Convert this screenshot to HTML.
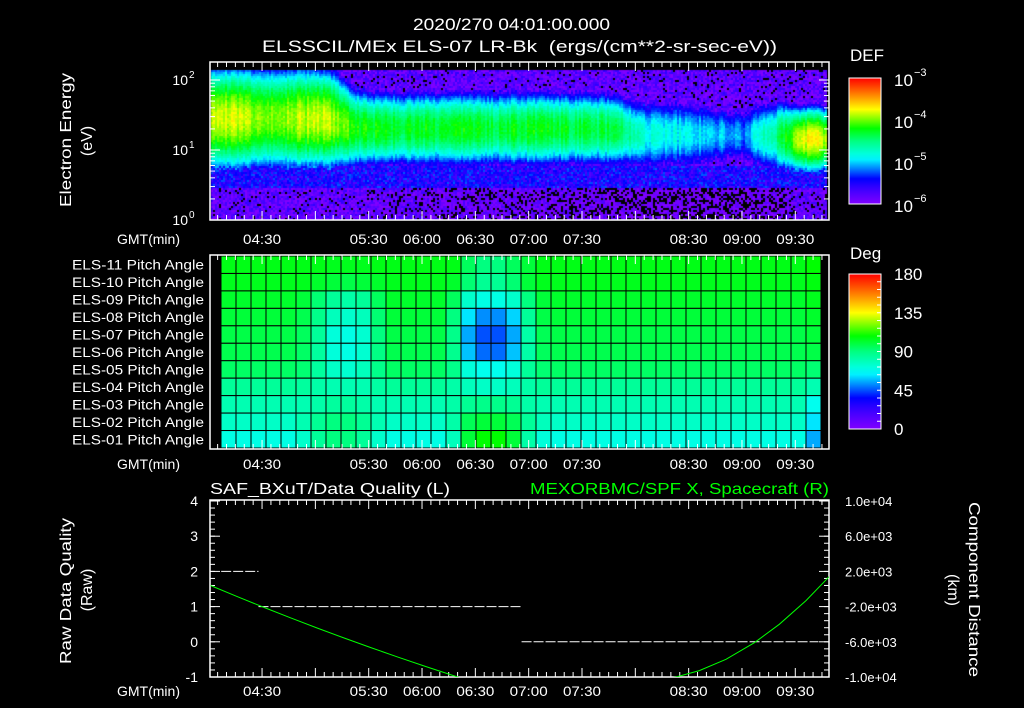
<!DOCTYPE html>
<html><head><meta charset="utf-8">
<style>
html,body{margin:0;padding:0;background:#000;width:1024px;height:708px;overflow:hidden}
#wrap{position:relative;width:1024px;height:708px}
canvas{position:absolute;left:0;top:0}
svg{position:absolute;left:0;top:0}
text{font-family:"Liberation Sans",sans-serif;fill:#fff}
</style></head>
<body>
<div id="wrap">
<canvas id="spec" width="1024" height="708"></canvas>
<svg id="svg" width="1024" height="708" xmlns="http://www.w3.org/2000/svg">
<defs>
<linearGradient id="cbar" x1="0" y1="1" x2="0" y2="0"></linearGradient>
<clipPath id="botclip"><rect x="210" y="500" width="619" height="177"/></clipPath>
</defs>
<text x="413" y="30" textLength="197" lengthAdjust="spacingAndGlyphs" font-size="17">2020/270 04:01:00.000</text>
<text x="262" y="52" textLength="515" lengthAdjust="spacingAndGlyphs" font-size="17" xml:space="preserve">ELSSCIL/MEx ELS-07 LR-Bk  (ergs/(cm**2-sr-sec-eV))</text>
<g>
<text transform="translate(71,207) rotate(-90)" textLength="134" lengthAdjust="spacingAndGlyphs" font-size="16">Electron Energy</text>
<text transform="translate(92,141) rotate(-90)" text-anchor="middle" font-size="16">(eV)</text>
</g>
<text x="850" y="61" font-size="17">DEF</text>
<text x="850" y="259" font-size="17">Deg</text>
<text x="210" y="494" textLength="240" lengthAdjust="spacingAndGlyphs" font-size="16">SAF_BXuT/Data Quality (L)</text>
<text x="530" y="494" textLength="299" lengthAdjust="spacingAndGlyphs" font-size="16" style="fill:#00ff00">MEXORBMC/SPF X, Spacecraft (R)</text>
<g>
<text transform="translate(71,664) rotate(-90)" textLength="146" lengthAdjust="spacingAndGlyphs" font-size="16">Raw Data Quality</text>
<text transform="translate(92,590) rotate(-90)" text-anchor="middle" font-size="16">(Raw)</text>
</g>
<g>
<text transform="translate(969,502) rotate(90)" textLength="175" lengthAdjust="spacingAndGlyphs" font-size="16">Component Distance</text>
<text transform="translate(948,590) rotate(90)" text-anchor="middle" font-size="16">(km)</text>
</g>
<g id="g"></g>
</svg>
</div>
<script>
// ---------- data ----------
const specTimes = [0,10,20,30,40,50,60,70,80,90,100,110,120,130,140,150,160,170,180,190,200,210,220,230,240,250,260,270,280,290,300,310,320,330,340,348];
const specPeakLog = [-3.75,-3.85,-3.85,-3.95,-3.95,-3.9,-3.85,-3.9,-4.15,-4.25,-4.25,-4.3,-4.25,-4.35,-4.25,-4.25,-4.35,-4.25,-4.25,-4.25,-4.3,-4.35,-4.35,-4.35,-4.75,-4.85,-4.85,-4.9,-5.0,-5.0,-5.2,-4.7,-4.5,-3.8,-3.75,-4.0];
const specCenterLogE = [1.45,1.45,1.45,1.45,1.45,1.45,1.45,1.42,1.32,1.3,1.3,1.3,1.3,1.3,1.3,1.3,1.3,1.3,1.3,1.3,1.3,1.3,1.3,1.28,1.22,1.22,1.22,1.22,1.22,1.22,1.22,1.2,1.2,1.15,1.15,1.15];
const specWidthDec = [0.72,0.72,0.72,0.72,0.72,0.72,0.7,0.68,0.58,0.55,0.55,0.55,0.55,0.55,0.55,0.55,0.55,0.55,0.55,0.55,0.55,0.55,0.55,0.53,0.55,0.58,0.58,0.58,0.55,0.5,0.5,0.55,0.55,0.45,0.45,0.45];
const specLowBg = [-5.85,-5.85,-5.85,-5.85,-5.85,-5.85,-5.85,-5.85,-5.85,-5.9,-5.9,-5.9,-5.9,-5.95,-5.95,-5.95,-5.95,-5.95,-5.95,-5.95,-5.95,-5.95,-5.95,-6.0,-6.05,-6.05,-6.05,-6.05,-6.05,-6.05,-6.05,-6.0,-6.0,-5.9,-5.9,-5.9];
const energyTickLabels = ["2","1","0"];
const defTickLabels = ["-3","-4","-5","-6"];
const pitchRows = ["ELS-11","ELS-10","ELS-09","ELS-08","ELS-07","ELS-06","ELS-05","ELS-04","ELS-03","ELS-02","ELS-01"];
const pitch11 = [105,105,105,105,105,105,105,104,104,104,105,105,105,105,105,105,95,90,90,95,100,105,105,105,105,105,105,105,105,105,105,105,105,105,105,105,105,105,105,108];
const pitch10 = [104,104,104,104,104,104,102,100,98,100,102,104,104,104,104,102,92,86,86,92,100,104,104,104,104,104,104,104,104,104,104,104,104,104,104,104,104,104,104,106];
const pitch09 = [102,102,102,102,102,100,92,85,82,85,95,102,102,102,102,95,75,70,70,75,90,100,102,102,102,102,102,102,102,102,102,102,102,102,102,102,102,102,102,104];
const pitch08 = [100,100,100,100,100,97,88,78,75,78,92,100,100,100,100,90,62,52,52,60,85,98,100,100,100,100,100,100,100,100,100,100,100,100,100,100,100,100,100,102];
const pitch07 = [98,98,98,98,98,95,85,72,70,74,90,98,98,98,98,88,55,45,45,55,82,96,98,98,98,98,98,98,98,98,98,98,98,98,98,98,98,98,98,100];
const pitch06 = [97,97,97,97,97,94,84,72,70,74,89,97,97,97,97,87,58,48,48,58,82,95,97,97,97,97,97,97,97,97,97,97,97,97,97,97,97,97,97,98];
const pitch05 = [94,94,94,94,94,92,84,76,74,78,88,94,94,94,94,88,72,68,68,72,85,92,94,94,94,94,94,94,94,94,94,94,94,94,94,94,94,94,94,92];
const pitch04 = [85,85,85,85,85,84,82,80,80,80,83,85,85,85,85,82,78,76,76,78,82,85,85,85,85,85,85,85,85,85,85,85,85,85,85,85,85,85,85,80];
const pitch03 = [80,80,80,80,80,80,82,84,84,82,80,80,80,80,80,82,86,88,88,86,82,80,80,80,80,80,80,80,80,80,80,80,80,80,80,80,80,80,80,68];
const pitch02 = [76,76,76,76,76,80,86,90,90,86,80,76,76,76,76,82,96,100,100,96,85,78,76,76,76,76,76,76,76,76,76,76,76,76,76,76,76,76,76,62];
const pitch01 = [70,70,70,70,70,75,85,90,90,85,75,70,70,70,70,78,100,108,108,100,82,72,70,70,70,70,70,70,70,70,70,70,70,70,70,70,70,70,70,55];
const pitchTickLabels = ["180","135","90","45","0"];
const dqStart = [6,27,175];
const dqEnd = [27,175,342];
const dqValue = [2,1,0];
const posTimesA = [0,15,29,45,60,75,90,105,120,139,150];
const posValuesA = [400,-860,-2000,-3270,-4430,-5560,-6650,-7710,-8740,-10000,-10700];
const posTimesB = [250,262,275,290,306,320,335,348];
const posValuesB = [-10360,-10000,-9270,-7990,-6100,-4010,-1320,1400];
const dqTickLabels = ["4","3","2","1","0","-1"];
const distTickLabels = ["1.0e+04","6.0e+03","2.0e+03","-2.0e+03","-6.0e+03","-1.0e+04"];
const distTickValues = [10000,6000,2000,-2000,-6000,-10000];
const timeTickLabels = ["04:30","05:30","06:00","06:30","07:00","07:30","08:30","09:00","09:30"];
const timeTickMinutes = [29,89,119,149,179,209,269,299,329];

// ---------- scales ----------
const X0=210.5, PXM=1.7775;
const xT = t => X0 + t*PXM;
const yE = le => 220 - le*70;
const yQ = q => 501 + (4-q)*35.2;
const yD = v => 501 + (10000-v)/20000*176;
const yDef = l => 204 - (l+6)*42;
const yDeg = d => 429 - d/180*155;

const stops=[[0,[128,0,255]],[0.12,[60,0,255]],[0.2,[0,0,255]],[0.3,[0,160,255]],[0.36,[0,255,255]],[0.5,[0,255,128]],[0.6,[0,255,0]],[0.75,[255,255,0]],[0.87,[255,128,0]],[1,[255,0,0]]];
function cmap(f){f=Math.max(0,Math.min(1,f));for(let i=1;i<stops.length;i++){if(f<=stops[i][0]){const a=stops[i-1],b=stops[i];const u=(f-a[0])/(b[0]-a[0]);return [0,1,2].map(k=>Math.round(a[1][k]+(b[1][k]-a[1][k])*u));}}return stops[stops.length-1][1];}
const rgb=c=>`rgb(${c[0]},${c[1]},${c[2]})`;
function interp(arrT,arrV,t){if(t<=arrT[0])return arrV[0];for(let i=1;i<arrT.length;i++){if(t<=arrT[i]){const u=(t-arrT[i-1])/(arrT[i]-arrT[i-1]);return arrV[i-1]+(arrV[i]-arrV[i-1])*u;}}return arrV[arrV.length-1];}
function hash(a,b){let h=(a*374761393+b*668265263)|0;h=(h^(h>>>13))*1274126177|0;return ((h^(h>>>16))>>>0)/4294967295;}

// ---------- spectrogram ----------
const ctx=document.getElementById('spec').getContext('2d');
for(let x=211;x<827;x+=2){
  const t=(x+1-X0)/PXM;
  const pk=interp(specTimes,specPeakLog,t), c=interp(specTimes,specCenterLogE,t), w=interp(specTimes,specWidthDec,t), lb=interp(specTimes,specLowBg,t);
  const colN=(hash(x,7)-0.5)*0.25;
  for(let y=70;y<220;y+=2){
    const le=(220-(y+1))/70;
    let bg = le<0.45 ? lb : (le<0.78 ? -5.5 : -5.85);
    const band = pk + colN - 1.5*Math.pow((le-c)/w,2);
    let v=Math.max(bg,band);
    const n=hash(x,y)-0.5;
    v += band>bg+0.3 ? n*0.15 : n*0.55;
    if(v<-6.08){ctx.fillStyle='#000';}
    else ctx.fillStyle=rgb(cmap((v+6)/3));
    ctx.fillRect(x,y,2,2);
  }
}

// ---------- svg ----------
const NS='http://www.w3.org/2000/svg';
const G=document.getElementById('g');
function el(tag,attrs,parent){const e=document.createElementNS(NS,tag);for(const k in attrs)e.setAttribute(k,attrs[k]);(parent||G).appendChild(e);return e;}
function line(x1,y1,x2,y2,col,p){return el('line',{x1,y1,x2,y2,stroke:col||'#fff','stroke-width':1},p);}

const pitchData=[pitch11,pitch10,pitch09,pitch08,pitch07,pitch06,pitch05,pitch04,pitch03,pitch02,pitch01];
const PX0=221, PCW=15, PY0=256, PRH=192/11;
const hm=el('g',{});


pitchData.forEach((row,r)=>{
  row.forEach((v,ci)=>{
    const rc=el('rect',{x:PX0+ci*PCW,y:PY0+r*PRH,width:PCW,height:PRH,fill:rgb(cmap(v/180)),stroke:'#000','stroke-width':1},hm);
    
    
  });
  const lb=el('text',{x:72,y:PY0+r*PRH+PRH/2+5,textLength:132,lengthAdjust:'spacingAndGlyphs','font-size':14});
  lb.textContent=pitchRows[r]+' Pitch Angle';
  
  
});

function frame(y1,y2,name){
  const f=el('rect',{x:210,y:y1,width:619,height:y2-y1,fill:'none',stroke:'#fff','stroke-width':1.5});
  
  
  for(let t=4;t<=348;t+=5){
    const L=((t+1)%30===0)?9:5;
    line(xT(t),y1,xT(t),y1+L);line(xT(t),y2,xT(t),y2-L);
  }
}
frame(62,220,'spectrogram-frame');
frame(255,449,'pitch-frame');
frame(500,677,'quality-frame');

function timeLabels(y,name){
  const g=el('g',{});
  
  
  const a=el('text',{x:117,y:y,textLength:63,lengthAdjust:'spacingAndGlyphs','font-size':14},g);a.textContent='GMT(min)';
  timeTickLabels.forEach((s,i)=>{const tx=el('text',{x:xT(timeTickMinutes[i])-19,y:y,textLength:38,lengthAdjust:'spacingAndGlyphs','font-size':14},g);tx.textContent=s;});
}
timeLabels(244,'spectrogram-time-axis');
timeLabels(469,'pitch-time-axis');
timeLabels(696,'quality-time-axis');

const ea=el('g',{});


energyTickLabels.forEach(s=>{
  const d=+s, y=yE(d);
  line(210,y,220,y,'#fff',ea);line(829,y,819,y,'#fff',ea);
  const tx=el('text',{x:188,y:y+5,'text-anchor':'end','font-size':14},ea);tx.textContent='10';
  const sp=el('text',{x:189,y:y-2,'font-size':10},ea);sp.textContent=s;
  if(d<2)for(let m=2;m<10;m++){const yy=yE(d+Math.log10(m));if(yy<62)break;line(210,yy,215,yy,'#fff',ea);line(829,yy,824,yy,'#fff',ea);}
});

const grad=document.getElementById('cbar');
for(let i=0;i<=20;i++){el('stop',{offset:i/20,'stop-color':rgb(cmap(i/20))},grad);}
const cb1=el('rect',{x:849,y:yDef(-3),width:32,height:yDef(-6)-yDef(-3),fill:'url(#cbar)',stroke:'#fff','stroke-width':1});


defTickLabels.forEach(s=>{const d=+s,y=yDef(d);
  const tx=el('text',{x:894,y:y+8,'font-size':17});tx.textContent='10';
  
  
  const sp=el('text',{x:914,y:y-2,'font-size':11});sp.textContent=s.replace('-','\u2212');
  if(d>-3)for(let m=2;m<10;m++){const yy=yDef(d+Math.log10(m));line(881,yy,876,yy);}
});
const cb2=el('rect',{x:849,y:yDeg(180),width:32,height:yDeg(0)-yDeg(180),fill:'url(#cbar)',stroke:'#fff','stroke-width':1});


pitchTickLabels.forEach(s=>{const y=yDeg(+s);
  const tx=el('text',{x:894,y:y+6,'font-size':17});tx.textContent=s;
  
  
});
for(let d=0;d<=180;d+=9){line(881,yDeg(d),877,yDeg(d));}

dqTickLabels.forEach(s=>{const y=yQ(+s);
  const tx=el('text',{x:198,y:y+5,'text-anchor':'end','font-size':14});tx.textContent=s;
  
  
  line(210,y,220,y);
});
for(let q=-1;q<=4;q+=0.2){line(210,yQ(q),215,yQ(q));line(829,yQ(q),824,yQ(q));}
distTickLabels.forEach((s,i)=>{const y=yD(distTickValues[i]);
  const tx=el('text',{x:845,y:y+5,'font-size':13});tx.textContent=s;
  
  
  line(829,y,819,y);
});

dqValue.forEach((v,i)=>{
  const l=el('line',{x1:xT(dqStart[i]),y1:yQ(v),x2:xT(dqEnd[i]),y2:yQ(v),stroke:'#fff','stroke-width':1,'stroke-dasharray':'10 2'});
  
  
});
[[posTimesA,posValuesA],[posTimesB,posValuesB]].forEach(([ts,vs])=>{
  const pts=ts.map((t,i)=>xT(t).toFixed(1)+','+yD(vs[i]).toFixed(1)).join(' ');
  const pl=el('polyline',{points:pts,fill:'none',stroke:'#00ff00','stroke-width':1,'clip-path':'url(#botclip)'});
  
  
});
</script>
</body></html>
